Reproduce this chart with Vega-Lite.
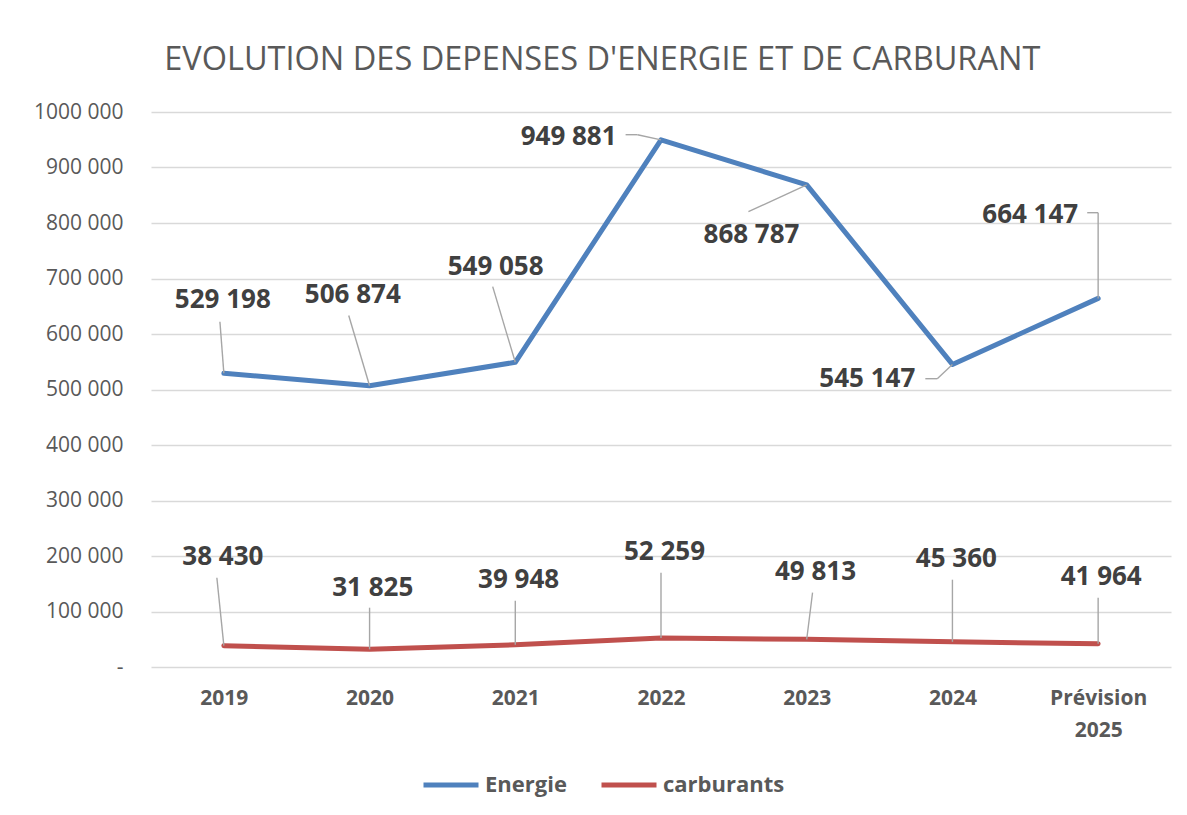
{
  "$schema": "https://vega.github.io/schema/vega-lite/v6.json",
  "width": 1020,
  "height": 555,
  "autosize": "none",
  "padding": {"left": 151, "top": 112, "right": 16, "bottom": 148},
  "background": "white",
  "config": {
    "locale": {"number": {"decimal": ",", "thousands": " ", "grouping": [3], "currency": ["", " €"]}},
    "view": {"stroke": null},
    "font": "Open Sans"
  },
  "title": {
    "text": "EVOLUTION DES DEPENSES D'ENERGIE ET DE CARBURANT",
    "font": "Open Sans",
    "fontSize": 32.5,
    "fontWeight": "normal",
    "color": "#595959",
    "frame": "bounds",
    "anchor": "middle",
    "offset": 25
  },
  "datasets": {
    "series": [
      {"year": 2019, "serie": "Energie", "value": 529198},
      {"year": 2020, "serie": "Energie", "value": 506874},
      {"year": 2021, "serie": "Energie", "value": 549058},
      {"year": 2022, "serie": "Energie", "value": 949881},
      {"year": 2023, "serie": "Energie", "value": 868787},
      {"year": 2024, "serie": "Energie", "value": 545147},
      {"year": 2025, "serie": "Energie", "value": 664147},
      {"year": 2019, "serie": "carburants", "value": 38430},
      {"year": 2020, "serie": "carburants", "value": 31825},
      {"year": 2021, "serie": "carburants", "value": 39948},
      {"year": 2022, "serie": "carburants", "value": 52259},
      {"year": 2023, "serie": "carburants", "value": 49813},
      {"year": 2024, "serie": "carburants", "value": 45360},
      {"year": 2025, "serie": "carburants", "value": 41964}
    ],
    "labels": [
      {"serie": "Energie", "value": 529198, "textYear": 2018.993, "textValue": 661800},
      {"serie": "Energie", "value": 506874, "textYear": 2019.885, "textValue": 670810},
      {"serie": "Energie", "value": 549058, "textYear": 2020.865, "textValue": 721260},
      {"serie": "Energie", "value": 949881, "textYear": 2021.366, "textValue": 955500},
      {"serie": "Energie", "value": 868787, "textYear": 2022.621, "textValue": 778920},
      {"serie": "Energie", "value": 545147, "textYear": 2023.416, "textValue": 519460},
      {"serie": "Energie", "value": 664147, "textYear": 2024.534, "textValue": 814950},
      {"serie": "carburants", "value": 38430, "textYear": 2018.993, "textValue": 198740},
      {"serie": "carburants", "value": 31825, "textYear": 2020.022, "textValue": 142880},
      {"serie": "carburants", "value": 39948, "textYear": 2021.023, "textValue": 157300},
      {"serie": "carburants", "value": 52259, "textYear": 2022.024, "textValue": 207750},
      {"serie": "carburants", "value": 49813, "textYear": 2023.06, "textValue": 171710},
      {"serie": "carburants", "value": 45360, "textYear": 2024.027, "textValue": 195130},
      {"serie": "carburants", "value": 41964, "textYear": 2025.021, "textValue": 162700}
    ],
    "leaders": [
      {"fromYear": 2018.973, "fromValue": 622160, "toYear": 2019, "toValue": 529198},
      {"fromYear": 2019.857, "fromValue": 633300, "toYear": 2020, "toValue": 506874},
      {"fromYear": 2020.845, "fromValue": 685300, "toYear": 2021, "toValue": 549058},
      {"fromYear": 2021.757, "fromValue": 959100, "toYear": 2021.839, "toValue": 959100},
      {"fromYear": 2021.839, "fromValue": 959100, "toYear": 2022, "toValue": 949881},
      {"fromYear": 2022.6, "fromValue": 820360, "toYear": 2023, "toValue": 868787},
      {"fromYear": 2023.814, "fromValue": 519460, "toYear": 2023.896, "toValue": 519460},
      {"fromYear": 2023.896, "fromValue": 519460, "toYear": 2024, "toValue": 545147},
      {"fromYear": 2024.925, "fromValue": 818560, "toYear": 2025, "toValue": 818560},
      {"fromYear": 2025, "fromValue": 818560, "toYear": 2025, "toValue": 664147},
      {"fromYear": 2018.952, "fromValue": 160900, "toYear": 2019, "toValue": 38430},
      {"fromYear": 2020, "fromValue": 106850, "toYear": 2020, "toValue": 31825},
      {"fromYear": 2021, "fromValue": 119460, "toYear": 2021, "toValue": 39948},
      {"fromYear": 2022, "fromValue": 169910, "toYear": 2022, "toValue": 52259},
      {"fromYear": 2023.04, "fromValue": 133870, "toYear": 2023, "toValue": 49813},
      {"fromYear": 2024, "fromValue": 157300, "toYear": 2024, "toValue": 45360},
      {"fromYear": 2025, "fromValue": 124860, "toYear": 2025, "toValue": 41964}
    ]
  },
  "layer": [
    {
      "data": {"name": "series"},
      "mark": {"type": "line", "strokeWidth": 5, "strokeCap": "round", "strokeJoin": "round"},
      "encoding": {
        "x": {
          "field": "year", "type": "quantitative",
          "scale": {"domain": [2018.5, 2025.5], "nice": false, "zero": false},
          "axis": {
            "title": null, "values": [2019, 2020, 2021, 2022, 2023, 2024, 2025],
            "labelExpr": "datum.value == 2025 ? ['Prévision', '2025'] : '' + datum.value",
            "grid": false, "domain": false, "ticks": false,
            "labelFont": "Open Sans", "labelFontSize": 21, "labelFontWeight": "bold",
            "labelColor": "#595959", "labelPadding": 20, "labelLineHeight": 32,
            "labelBaseline": "top"
          }
        },
        "y": {
          "field": "value", "type": "quantitative",
          "scale": {"domain": [0, 1000000], "nice": false},
          "axis": {
            "title": null,
            "values": [0, 100000, 200000, 300000, 400000, 500000, 600000, 700000, 800000, 900000, 1000000],
            "labelExpr": "datum.value == 0 ? '-' : floor(datum.value / 1000) + ' 000'",
            "domain": false, "ticks": false,
            "gridColor": "#D9D9D9", "gridWidth": 1.5,
            "labelFont": "Open Sans", "labelFontSize": 21, "labelColor": "#595959",
            "labelPadding": 28
          }
        },
        "color": {
          "field": "serie", "type": "nominal",
          "scale": {"domain": ["Energie", "carburants"], "range": ["#4F81BD", "#C0504D"]},
          "legend": {
            "orient": "none", "legendX": 270, "legendY": 643,
            "direction": "horizontal", "title": null,
            "symbolType": "stroke", "symbolSize": 3025, "symbolStrokeWidth": 5,
            "labelFont": "Open Sans", "labelFontSize": 22, "labelFontWeight": "bold",
            "labelColor": "#595959", "labelOffset": 4, "columnPadding": 24, "padding": 0
          }
        }
      }
    },
    {
      "data": {"name": "leaders"},
      "mark": {"type": "rule", "color": "#A6A6A6", "strokeWidth": 1.4},
      "encoding": {
        "x": {"field": "fromYear", "type": "quantitative"},
        "y": {"field": "fromValue", "type": "quantitative"},
        "x2": {"field": "toYear"},
        "y2": {"field": "toValue"}
      }
    },
    {
      "data": {"name": "labels"},
      "mark": {"type": "text", "font": "Open Sans", "fontSize": 26, "fontWeight": "bold", "color": "#404040", "align": "center", "baseline": "middle"},
      "encoding": {
        "x": {"field": "textYear", "type": "quantitative"},
        "y": {"field": "textValue", "type": "quantitative"},
        "text": {"field": "value", "type": "quantitative", "format": ",d"}
      }
    }
  ]
}
